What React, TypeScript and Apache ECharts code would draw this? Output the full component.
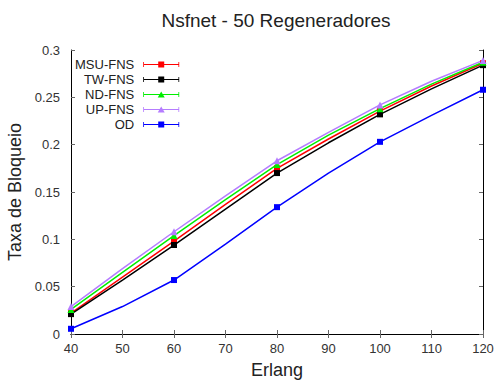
import React, { useEffect, useRef } from "react";
import * as echarts from "echarts";

const erlang = [40, 50, 60, 70, 80, 90, 100, 110, 120];
const markerAt = [40, 60, 80, 100, 120];
const msu = [0.022, 0.060, 0.098, 0.137, 0.175, 0.206, 0.2355, 0.262, 0.286];
const tw = [0.021, 0.057, 0.094, 0.132, 0.170, 0.202, 0.232, 0.259, 0.284];
const nd = [0.026, 0.065, 0.104, 0.142, 0.179, 0.210, 0.238, 0.264, 0.287];
const up = [0.029, 0.069, 0.108, 0.146, 0.183, 0.213, 0.242, 0.267, 0.289];
const od = [0.0055, 0.029, 0.057, 0.095, 0.134, 0.170, 0.203, 0.231, 0.258];
const yTicks = [0, 0.05, 0.1, 0.15, 0.2, 0.25, 0.3];

const seriesDefs = [
  { name: "MSU-FNS", data: msu, color: "#ff0000", symbol: "rect" },
  { name: "TW-FNS", data: tw, color: "#000000", symbol: "rect" },
  { name: "ND-FNS", data: nd, color: "#00ee00", symbol: "triangle" },
  { name: "UP-FNS", data: up, color: "#b57cff", symbol: "triangle" },
  { name: "OD", data: od, color: "#0000ff", symbol: "rect" },
];

const iconSquare =
  "path://M0,3.6 H36 V4.4 H0 Z M0,1.5 H0.8 V6.5 H0 Z M35.2,1.5 H36 V6.5 H35.2 Z M15,1 H21 V7 H15 Z";
const iconTri =
  "path://M0,3.6 H36 V4.4 H0 Z M0,1.5 H0.8 V6.5 H0 Z M35.2,1.5 H36 V6.5 H35.2 Z M18,1 L21.5,7 H14.5 Z";

export default function App() {
  const ref = useRef<HTMLDivElement>(null);
  useEffect(() => {
    const chart = echarts.init(ref.current!, null, { renderer: "svg" });
    const font = "Liberation Sans, Arial, sans-serif";
    chart.setOption({
      animation: false,
      backgroundColor: "#ffffff",
      textStyle: { fontFamily: font },
      title: {
        text: "Nsfnet - 50 Regeneradores",
        left: 271,
        top: 6,
        textAlign: "center",
        textStyle: { fontSize: 19, fontWeight: "normal", color: "#222", fontFamily: font },
      },
      legend: {
        orient: "vertical",
        left: 70,
        top: 53,
        align: "right",
        itemWidth: 36,
        itemHeight: 8,
        itemGap: 2,
        textStyle: { fontSize: 13, color: "#222", fontFamily: font, padding: [0, 4, 0, 0] },
        data: seriesDefs.map((s) => ({
          name: s.name,
          icon: s.symbol === "rect" ? iconSquare : iconTri,
          itemStyle: { color: s.color },
        })),
      },
      grid: { left: 71, right: 16, top: 50, bottom: 46, containLabel: false, outerBoundsMode: "none" },
      xAxis: [
        {
          type: "value",
          min: 40,
          max: 120,
          interval: 10,
          name: "Erlang",
          nameLocation: "middle",
          nameGap: 27,
          nameTextStyle: { fontSize: 18, color: "#222", fontFamily: font },
          axisLine: { lineStyle: { color: "#000", width: 1 } },
          axisTick: { inside: true, length: 4, lineStyle: { color: "#666" } },
          axisLabel: { fontSize: 13, color: "#333", margin: 8 },
          splitLine: { show: false },
        },
        {
          type: "value",
          position: "top",
          min: 40,
          max: 120,
          interval: 10,
          axisLine: { show: true, lineStyle: { color: "#000", width: 1 } },
          axisTick: { inside: true, length: 4, lineStyle: { color: "#666" } },
          axisLabel: { show: false },
          splitLine: { show: false },
        },
      ],
      yAxis: [
        {
          type: "value",
          min: 0,
          max: 0.3,
          interval: 0.05,
          name: "Taxa de Bloqueio",
          nameLocation: "middle",
          nameGap: 34,
          nameTextStyle: { fontSize: 18, color: "#222", fontFamily: font },
          axisLine: { show: true, lineStyle: { color: "#000", width: 1 } },
          axisTick: { show: true, inside: true, length: 4, lineStyle: { color: "#666" } },
          axisLabel: {
            fontSize: 13,
            color: "#333",
            margin: 11,
            formatter: (v: number) => {
              const t = yTicks.find((x) => Math.abs(x - v) < 1e-9);
              return t === undefined ? "" : String(t);
            },
          },
          splitLine: { show: false },
        },
        {
          type: "value",
          position: "right",
          min: 0,
          max: 0.3,
          interval: 0.05,
          axisLine: { show: true, lineStyle: { color: "#000", width: 1 } },
          axisTick: { show: true, inside: true, length: 4, lineStyle: { color: "#666" } },
          axisLabel: { show: false },
          splitLine: { show: false },
        },
      ],
      series: seriesDefs.map((s) => ({
        name: s.name,
        type: "line",
        xAxisIndex: 0,
        yAxisIndex: 0,
        color: s.color,
        symbol: s.symbol,
        symbolSize: s.symbol === "rect" ? 6 : 7,
        showAllSymbol: true,
        lineStyle: { width: 1.5, color: s.color },
        itemStyle: { color: s.color },
        data: erlang.map((x, i) => ({
          value: [x, s.data[i]],
          symbol: markerAt.includes(x) ? s.symbol : "none",
        })),
      })),
    });
    return () => chart.dispose();
  }, []);
  return <div ref={ref} style={{ width: 499, height: 380, position: "absolute", left: 0, top: 0 }} />;
}
